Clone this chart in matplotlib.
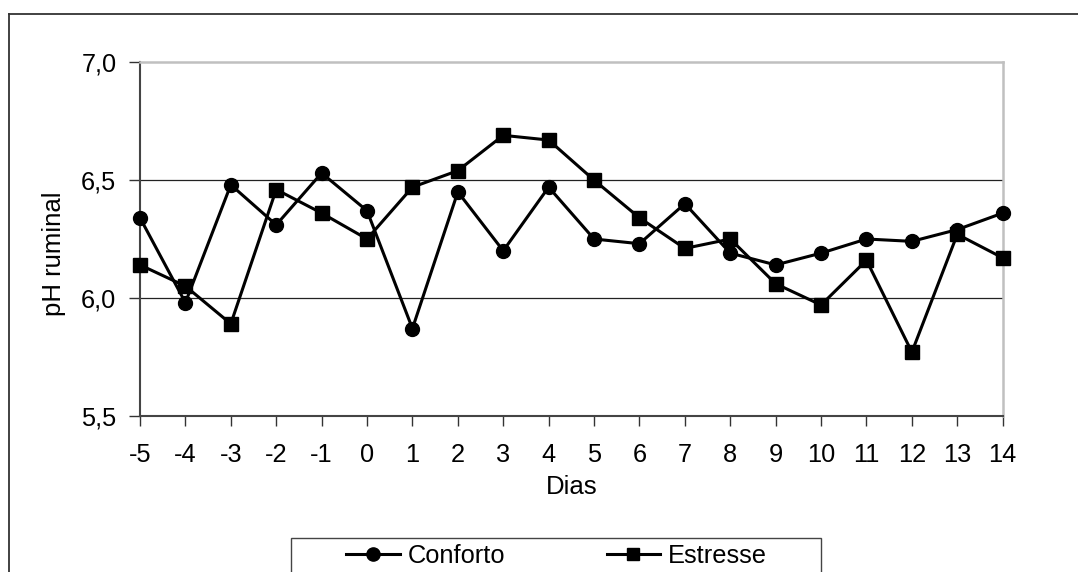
import matplotlib

matplotlib.use("Agg")
import matplotlib.pyplot as plt
from matplotlib.lines import Line2D
from matplotlib.patches import Rectangle

plt.rcParams["font.family"] = ["Liberation Sans", "DejaVu Sans"]

dias = [-5, -4, -3, -2, -1, 0, 1, 2, 3, 4, 5, 6, 7, 8, 9, 10, 11, 12, 13, 14]
conforto = [6.34, 5.98, 6.48, 6.31, 6.53, 6.37, 5.87, 6.45, 6.20, 6.47,
            6.25, 6.23, 6.40, 6.19, 6.14, 6.19, 6.25, 6.24, 6.29, 6.36]
estresse = [6.14, 6.05, 5.89, 6.46, 6.36, 6.25, 6.47, 6.54, 6.69, 6.67,
            6.50, 6.34, 6.21, 6.25, 6.06, 5.97, 6.16, 5.77, 6.27, 6.17]
y_ticks = [5.5, 6.0, 6.5, 7.0]
y_labels = ["5,5", "6,0", "6,5", "7,0"]

W, H = 1078, 572
fs = 18.3

fig = plt.figure(figsize=(W / 100, H / 100), dpi=100)
ax = fig.add_axes([140 / W, 1 - 415.7 / H, 862.7 / W, 353.4 / H])

ax.plot(dias, conforto, color="black", lw=2.2, marker="o", ms=10,
        label="Conforto", clip_on=False, zorder=3)
ax.plot(dias, estresse, color="black", lw=2.2, marker="s", ms=9.8,
        label="Estresse", clip_on=False, zorder=3)

ax.set_xlim(-5, 14)
ax.set_ylim(5.5, 7.0)
ax.set_xticks(dias)
ax.set_xticklabels([str(d) for d in dias])
ax.set_yticks(y_ticks)
ax.set_yticklabels(y_labels)
ax.tick_params(axis="x", labelsize=fs, length=7.5, width=1.0, pad=12, color="#333333")
ax.tick_params(axis="y", labelsize=fs, length=8, width=1.0, pad=9, color="#333333")

for y in [6.0, 6.5]:
    ax.axhline(y, color="#222222", lw=0.9, zorder=1)

ax.spines["left"].set_color("#444444")
ax.spines["bottom"].set_color("#444444")
ax.spines["left"].set_linewidth(1.5)
ax.spines["bottom"].set_linewidth(1.5)
ax.spines["top"].set_color("#c0c0c0")
ax.spines["right"].set_color("#c0c0c0")
ax.spines["top"].set_linewidth(1.8)
ax.spines["right"].set_linewidth(1.8)

fig.text(571.5 / W, 1 - 486.5 / H, "Dias", fontsize=18.5, ha="center", va="center")
fig.text(54 / W, 1 - 254 / H, "pH ruminal", fontsize=18.5, ha="center",
         va="center", rotation=90)

# chart border (only top and left edges fall inside the canvas)
fig.add_artist(Line2D([9 / W, 9 / W], [-0.1, 1 - 14 / H], color="#333333", lw=1.3))
fig.add_artist(Line2D([9 / W, 1.1], [1 - 14 / H, 1 - 14 / H], color="#333333", lw=1.3))

# legend box running off the bottom edge
fig.add_artist(Rectangle((291 / W, -0.1), 530 / W, 0.1 + 1 - 537.5 / H,
                         transform=fig.transFigure, fill=False,
                         edgecolor="#444444", lw=1.0))
ax.legend(loc="center", bbox_to_anchor=(556.5 / W, 1 - 556 / H),
          bbox_transform=fig.transFigure, ncol=2, frameon=False,
          fontsize=fs, handlelength=2.1, handletextpad=0.3,
          columnspacing=4.0, markerscale=0.95)

fig.savefig("out.png", dpi=100)
